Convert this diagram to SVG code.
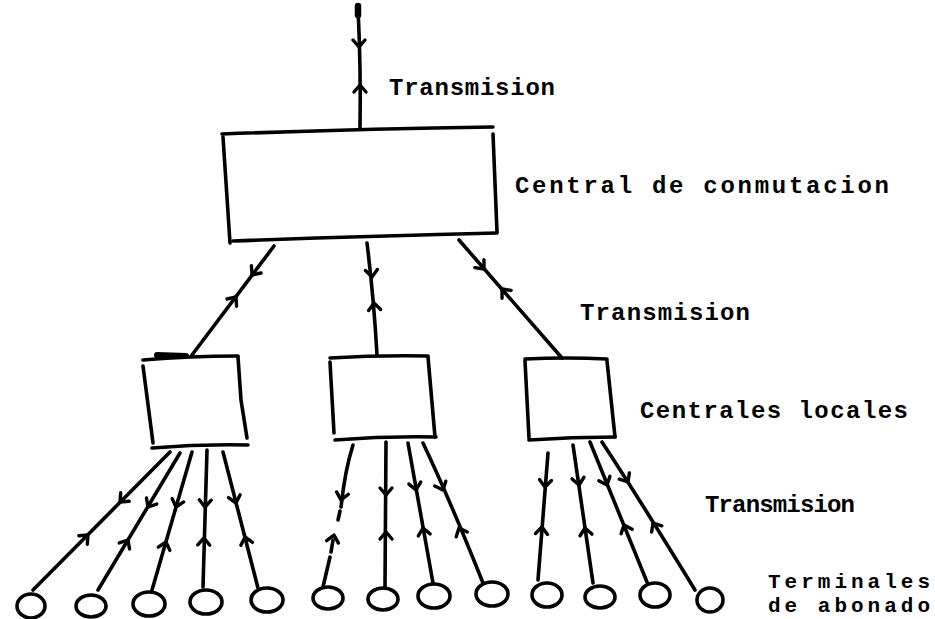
<svg xmlns="http://www.w3.org/2000/svg" xmlns:xlink="http://www.w3.org/1999/xlink" width="935" height="619" viewBox="0 0 935 619">
  <style>
    .ln { fill: none; stroke: #000; stroke-width: 3.6; stroke-linecap: round; stroke-linejoin: round; }
    .ah { fill: none; stroke: #000; stroke-width: 3.4; stroke-linecap: round; stroke-linejoin: round; }
    .lbl { font-family: "Liberation Mono", "DejaVu Sans Mono", monospace; font-weight: bold; font-size: 24px; fill: #000; }
    .lbl .sm { font-size: 21px; }
  </style>
  <defs>
    <!-- chevron pointing along +y; rotated into place along each line -->
    <path id="chev" d="M-6,-7 L0,0 L6,-7"/>
  </defs>
  <rect width="935" height="619" fill="#fff"/>

  <!-- nodes -->
  <g id="central-conmutacion" class="ln">
    <path d="M222,134 Q360,129 493,127"/>
    <path d="M223,137 L230,243"/>
    <path d="M493,134 L497,232"/>
    <path d="M233,241 Q370,236 497,233"/>
  </g>

  <g id="local-1" class="ln">
    <path d="M143,360 Q190,356 238,356"/>
    <path d="M157,355 L186,356" stroke-width="6"/>
    <path d="M143,366 L153,443"/>
    <path d="M238,357 L241,400 L247,438"/>
    <path d="M152,448 Q200,444 248,445"/>
  </g>
  <g id="local-2" class="ln">
    <path d="M330,358 Q380,355 428,356"/>
    <path d="M330,362 L334,433"/>
    <path d="M428,357 L435,437"/>
    <path d="M335,440 Q385,436 436,437"/>
  </g>
  <g id="local-3" class="ln">
    <path d="M525,359 Q566,357 607,359"/>
    <path d="M525,361 L529,438"/>
    <path d="M607,361 L615,437"/>
    <path d="M529,440 Q572,437 615,437"/>
  </g>

  <g id="terminales" class="ln">
    <ellipse cx="31" cy="606" rx="14" ry="12"/>
    <ellipse cx="91" cy="606" rx="15" ry="11"/>
    <ellipse cx="149" cy="604" rx="16" ry="12"/>
    <ellipse cx="206" cy="602" rx="16" ry="12"/>
    <ellipse cx="267" cy="600" rx="16" ry="12"/>
    <ellipse cx="328" cy="598" rx="15" ry="11"/>
    <ellipse cx="383" cy="599" rx="15" ry="11"/>
    <ellipse cx="434" cy="596" rx="16" ry="12"/>
    <ellipse cx="492" cy="594" rx="16" ry="12"/>
    <ellipse cx="547" cy="595" rx="15" ry="12"/>
    <ellipse cx="600" cy="597" rx="15" ry="11"/>
    <ellipse cx="655" cy="595" rx="15" ry="12"/>
    <ellipse cx="710" cy="600" rx="13" ry="12"/>
  </g>

  <!-- connectors -->
  <g id="connectors">
    <g class="ln">
      <!-- trunk above the switching centre -->
      <path d="M358,6 L358,15" stroke-width="6.5"/>
      <path d="M358,8 Q361,70 360,128"/>
      <!-- switching centre to local exchanges -->
      <path d="M274,246 L192,355"/>
      <path d="M367,243 Q374,300 377,355"/>
      <path d="M459,240 L562,358"/>
      <!-- local exchange 1 to terminals -->
      <path d="M170,452 L33,590"/>
      <path d="M180,453 L98,590"/>
      <path d="M192,452 L152,590"/>
      <path d="M207,450 L203,587"/>
      <path d="M223,452 L258,588"/>
      <!-- local exchange 2 to terminals (first one partly broken) -->
      <path d="M353,445 Q345,470 341,507"/>
      <path d="M340,511 L338,520"/>
      <path d="M333,540 L331,552"/>
      <path d="M330,557 L323,587"/>
      <path d="M386,442 L385,587"/>
      <path d="M408,443 L433,583"/>
      <path d="M423,443 Q450,500 483,583"/>
      <!-- local exchange 3 to terminals -->
      <path d="M548,453 L538,580"/>
      <path d="M573,445 L593,583"/>
      <path d="M590,442 L647,582"/>
      <path d="M602,442 Q640,500 695,590"/>
    </g>
    <g class="ah">
      <use xlink:href="#chev" transform="translate(359,47) rotate(0)"/>
      <use xlink:href="#chev" transform="translate(360,85) rotate(180)"/>

      <use xlink:href="#chev" transform="translate(252,275) rotate(37)"/>
      <use xlink:href="#chev" transform="translate(236,297) rotate(217)"/>
      <use xlink:href="#chev" transform="translate(372,277) rotate(-5)"/>
      <use xlink:href="#chev" transform="translate(374,303) rotate(175)"/>
      <use xlink:href="#chev" transform="translate(484,269) rotate(-41)"/>
      <use xlink:href="#chev" transform="translate(502,289) rotate(139)"/>

      <use xlink:href="#chev" transform="translate(120,502) rotate(45)"/>
      <use xlink:href="#chev" transform="translate(88,535) rotate(225)"/>
      <use xlink:href="#chev" transform="translate(148,507) rotate(31)"/>
      <use xlink:href="#chev" transform="translate(128,540) rotate(211)"/>
      <use xlink:href="#chev" transform="translate(176,507) rotate(16)"/>
      <use xlink:href="#chev" transform="translate(166,542) rotate(196)"/>
      <use xlink:href="#chev" transform="translate(205,507) rotate(2)"/>
      <use xlink:href="#chev" transform="translate(204,538) rotate(182)"/>
      <use xlink:href="#chev" transform="translate(236,503) rotate(-14)"/>
      <use xlink:href="#chev" transform="translate(245,537) rotate(166)"/>

      <use xlink:href="#chev" transform="translate(341,500) rotate(12)"/>
      <use xlink:href="#chev" transform="translate(334,535) rotate(192)"/>
      <use xlink:href="#chev" transform="translate(386,495) rotate(0)"/>
      <use xlink:href="#chev" transform="translate(386,532) rotate(180)"/>
      <use xlink:href="#chev" transform="translate(416,490) rotate(-10)"/>
      <use xlink:href="#chev" transform="translate(423,528) rotate(170)"/>
      <use xlink:href="#chev" transform="translate(443,490) rotate(-23)"/>
      <use xlink:href="#chev" transform="translate(459,528) rotate(157)"/>

      <use xlink:href="#chev" transform="translate(545,487) rotate(4)"/>
      <use xlink:href="#chev" transform="translate(542,527) rotate(184)"/>
      <use xlink:href="#chev" transform="translate(579,485) rotate(-8)"/>
      <use xlink:href="#chev" transform="translate(585,528) rotate(172)"/>
      <use xlink:href="#chev" transform="translate(607,485) rotate(-22)"/>
      <use xlink:href="#chev" transform="translate(624,525) rotate(158)"/>
      <use xlink:href="#chev" transform="translate(628,482) rotate(-32)"/>
      <use xlink:href="#chev" transform="translate(653,523) rotate(148)"/>
    </g>
  </g>

  <!-- labels -->
  <g id="labels" class="lbl">
    <text x="389" y="95" textLength="166" lengthAdjust="spacing">Transmision</text>
    <text x="515" y="193" textLength="374" lengthAdjust="spacing">Central de conmutacion</text>
    <text x="580" y="320" textLength="170" lengthAdjust="spacing">Transmision</text>
    <text x="640" y="418" textLength="268" lengthAdjust="spacing">Centrales locales</text>
    <text x="705" y="512" textLength="150" lengthAdjust="spacing">Transmision</text>
    <text class="sm" x="768" y="588" textLength="162" lengthAdjust="spacing">Terminales</text>
    <text class="sm" x="768" y="612" textLength="162" lengthAdjust="spacing">de abonado</text>
  </g>
</svg>
